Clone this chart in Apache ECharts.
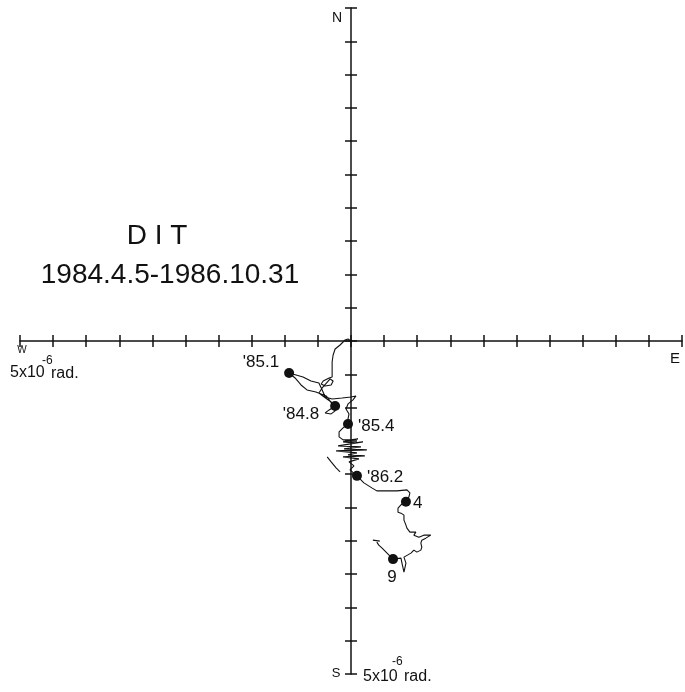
<!DOCTYPE html>
<html>
<head>
<meta charset="utf-8">
<script src="https://cdn.jsdelivr.net/npm/echarts@6/dist/echarts.min.js"></script>
<style>
html,body{margin:0;padding:0;background:#fff;}
#chart{width:685px;height:692px;}
</style>
</head>
<body>
<div id="chart"></div>
<script>
// ---- data (units of 5x10^-6 rad; x = E-W, y = N-S) ----
const axisMin = -10;
const axisMax = 10;
const axisStep = 1;

const titleLine1 = 'D I T';
const titleLine2 = '1984.4.5-1986.10.31';

// continuous tilt trace, 1984.4.5 -> 1986.10.31
const traceMain = [
  [0,0],[-0.09,0.06],[-0.18,0.03],[-0.33,-0.12],[-0.48,-0.24],[-0.54,-0.42],[-0.57,-0.63],
  [-0.57,-0.87],[-0.57,-1.08],[-0.66,-1.11],[-0.84,-1.20],[-0.90,-1.29],[-0.78,-1.35],
  [-0.60,-1.32],[-0.54,-1.20],[-0.63,-1.14],[-0.87,-1.41],[-0.97,-1.56],[-0.81,-1.68],
  [-0.60,-1.83],[-0.48,-1.95],[-0.66,-2.07],[-0.78,-2.16],[-0.60,-2.19],[-0.48,-2.10],
  [-0.57,-1.89],[-0.75,-1.65],[-1.06,-1.53],[-1.33,-1.47],[-1.51,-1.32],[-1.69,-1.11],
  [-1.87,-0.96],[-1.66,-1.02],[-1.45,-1.08],[-1.21,-1.20],[-0.97,-1.26],[-0.87,-1.47],
  [-0.78,-1.68],[-0.57,-1.74],[-0.27,-1.71],[0,-1.68],[0.15,-1.65],[0.06,-1.77],
  [-0.09,-1.89],[-0.15,-2.04],[-0.06,-2.19],[-0.09,-2.34],[-0.09,-2.49],
  [-0.24,-2.61],[-0.36,-2.73],[-0.36,-2.88],[-0.24,-2.97],[0,-2.97],[0.21,-2.94],
  [-0.24,-3.03],[0.12,-3.06],[0.36,-3.03],[-0.39,-3.15],[0.30,-3.18],[-0.21,-3.24],
  [0.48,-3.27],[-0.45,-3.30],[0.18,-3.36],[-0.09,-3.42],[0.42,-3.45],[-0.24,-3.48],
  [0.24,-3.54],[-0.06,-3.63],[0.09,-3.75],[-0.03,-3.87],[0.18,-4.05],
  [0.39,-4.26],[0.63,-4.41],[0.78,-4.50],[1.09,-4.50],[1.39,-4.50],[1.69,-4.47],
  [1.78,-4.56],[1.75,-4.68],[1.66,-4.83],
  [1.51,-4.92],[1.42,-5.02],[1.42,-5.14],[1.51,-5.17],[1.60,-5.23],[1.60,-5.38],
  [1.66,-5.53],[1.69,-5.62],[1.78,-5.74],[1.84,-5.77],[1.96,-5.74],[1.90,-5.83],
  [2.05,-5.89],[2.20,-5.83],[2.41,-5.83],[2.26,-5.92],[2.14,-5.98],[2.11,-6.07],
  [2.14,-6.19],[2.11,-6.28],[1.99,-6.34],[1.90,-6.28],[1.81,-6.37],[1.75,-6.43],
  [1.60,-6.49],[1.66,-6.67],[1.60,-6.94],[1.54,-6.67],[1.51,-6.52],[1.27,-6.55],
  [1.15,-6.43],[1.06,-6.34],[0.94,-6.22],[0.84,-6.13],[0.78,-6.04]
];
// short separate pen strokes
const strayStroke1 = [[-0.72,-3.48],[-0.60,-3.63],[-0.45,-3.81],[-0.33,-3.93]];
const strayStroke2 = [[0.66,-5.98],[0.87,-6.01]];

// dated markers
const markerNames = ["'85.1", "'84.8", "'85.4", "'86.2", "4", "9"];
const markerPoints = [[-1.87,-0.96],[-0.48,-1.95],[-0.09,-2.49],[0.18,-4.05],[1.66,-4.83],[1.27,-6.55]];

// ---- presentation ----
const markerLabelStyle = [
  {position:'left',  distance:5,  offset:[0,-11]},
  {position:'left',  distance:11, offset:[0,8]},
  {position:'right', distance:5,  offset:[0,2]},
  {position:'right', distance:5,  offset:[0,1]},
  {position:'right', distance:2,  offset:[0,1]},
  {position:'bottom',distance:5,  offset:[-1,0]}
];

const ink = '#111';
const axisLineStyle = {color: ink, width: 1.5};
const extra = {containLabel:false, outerBoundsMode:'none'};
const mainGrid  = Object.assign({left:20, right:3, top:8, bottom:18}, extra);
// narrow bands around each axis line: their split lines become ticks crossing the axis
const hTickGrid = Object.assign({left:20, right:3, top:335, height:12}, extra);
const vTickGrid = Object.assign({left:345, width:12, top:8, bottom:18}, extra);

function mainAxis(){
  return {
    type:'value', gridIndex:0, min:axisMin, max:axisMax, interval:axisStep,
    axisLine:{show:true, onZero:true, lineStyle:axisLineStyle},
    axisTick:{show:false}, axisLabel:{show:false}, splitLine:{show:false}
  };
}
function tickAxis(gridIndex){
  return {
    type:'value', gridIndex:gridIndex, min:axisMin, max:axisMax, interval:axisStep,
    axisLine:{show:false}, axisTick:{show:false}, axisLabel:{show:false},
    splitLine:{show:true, lineStyle:axisLineStyle}
  };
}
function hiddenAxis(gridIndex){
  return {
    type:'value', gridIndex:gridIndex, min:0, max:1,
    axisLine:{show:false}, axisTick:{show:false}, axisLabel:{show:false}, splitLine:{show:false}
  };
}

const fontFam = '"Liberation Sans", Arial, sans-serif';

const markerData = markerPoints.map((p,i)=>({
  value:p, name:markerNames[i],
  label:Object.assign({show:true, formatter:markerNames[i], color:ink, fontSize:17, fontFamily:fontFam},
                      markerLabelStyle[i])
}));

function txt(x,y,text,size,align,valign){
  return {type:'text', x:x, y:y, silent:true,
    style:{text:text, fill:ink, font:size+'px '+fontFam,
      textAlign:align||'left', textVerticalAlign:valign||'middle'}};
}

const chart = echarts.init(document.getElementById('chart'), null, {renderer:'canvas'});
chart.setOption({
  backgroundColor:'#fff',
  animation:false,
  grid:[mainGrid, hTickGrid, vTickGrid],
  xAxis:[mainAxis(), tickAxis(1), hiddenAxis(2)],
  yAxis:[mainAxis(), hiddenAxis(1), tickAxis(2)],
  series:[
    {type:'line', xAxisIndex:0, yAxisIndex:0, data:traceMain, showSymbol:false, symbol:'none',
     lineStyle:{color:ink, width:1.1}, z:3},
    {type:'line', xAxisIndex:0, yAxisIndex:0, data:strayStroke1, showSymbol:false, symbol:'none',
     lineStyle:{color:ink, width:1.1}, z:3},
    {type:'line', xAxisIndex:0, yAxisIndex:0, data:strayStroke2, showSymbol:false, symbol:'none',
     lineStyle:{color:ink, width:1.1}, z:3},
    {type:'scatter', xAxisIndex:0, yAxisIndex:0, data:markerData, symbol:'circle', symbolSize:10,
     itemStyle:{color:ink, opacity:1},
     label:{show:true, color:ink, fontSize:17, fontFamily:fontFam}, z:4}
  ],
  graphic:[
    txt(157,236,titleLine1,28,'center'),
    txt(170,275,titleLine2,28,'center'),
    txt(337,18,'N',14,'center'),
    txt(336,673,'S',13,'center'),
    txt(675,359,'E',15,'center'),
    txt(22,350,'W',10,'center'),
    // left scale note
    txt(10,373,'5x10',16,'left'),
    txt(42,361,'-6',12,'left'),
    txt(51,374,'rad.',16,'left'),
    // bottom scale note
    txt(363,677,'5x10',16,'left'),
    txt(392,662,'-6',12,'left'),
    txt(404,677,'rad.',16,'left')
  ]
});
</script>
</body>
</html>
